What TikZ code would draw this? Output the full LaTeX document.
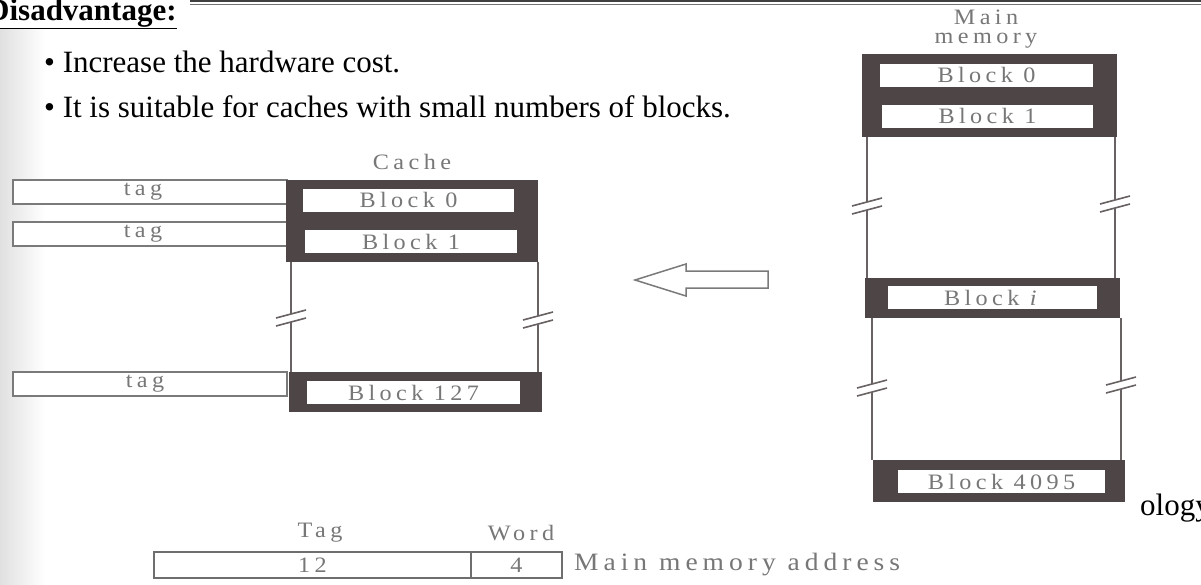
\documentclass[tikz,border=0pt]{standalone}
\usepackage{fontspec}
\setmainfont{Liberation Serif}
\newfontfamily\diagfont[LetterSpace=20,FakeStretch=1.1]{Liberation Serif}
\usetikzlibrary{calc}
\definecolor{blockgray}{HTML}{4E4646}
\definecolor{textgray}{HTML}{777777}
\definecolor{linegray}{HTML}{7A7A7A}
\tikzset{
  bigtext/.style={font=\fontsize{31}{31}\selectfont, inner sep=0pt, text=black},
  darkpart/.style={fill=blockgray, draw=none},
  whiteblk/.style={fill=white, draw=none, inner sep=0pt, text=textgray,
     font=\diagfont\fontsize{22}{22}\selectfont, minimum height=23pt},
  tagbox/.style={draw=linegray, line width=1.3pt, fill=white, inner sep=0pt,
     text=textgray, font=\diagfont\fontsize{22}{22}\selectfont,
     minimum height=24pt, minimum width=274pt},
  dlabel/.style={inner sep=0pt, text=textgray, font=\diagfont\fontsize{22}{22}\selectfont},
  sideline/.style={draw=blockgray!85, line width=1.6pt},
  addrbox/.style={draw=linegray!90!black, line width=1.6pt, inner sep=0pt,
     text=textgray, font=\diagfont\fontsize{22}{22}\selectfont, minimum height=26pt},
}
\newcommand{\brkline}[4]{% x, ytop, ybottom, ybreak
  \draw[sideline] (#1,#2) -- (#1,#4-4);
  \draw[sideline] (#1,#4+4) -- (#1,#3);
  \draw[sideline] (#1-15,#4) -- (#1+15,#4-8);
  \draw[sideline] (#1-15,#4+8) -- (#1+15,#4);
}
\begin{document}
\begin{tikzpicture}[x=1pt,y=-1pt]
\useasboundingbox (0,0) rectangle (1201,584);
\fill[white] (0,0) rectangle (1201,584);
\shade[left color=black!12, right color=white] (0,28) rectangle (45,584);
% top double rule
\draw[black!75, line width=1.2pt] (190,1) -- (1201,1);
\draw[black!55, line width=0.8pt] (190,4.5) -- (1201,4.5);

% heading and bullets
\node[bigtext, font=\bfseries\fontsize{31}{31}\selectfont, anchor=base west] (head) at (-13,20) {\underline{Disadvantage:}};
\node[bigtext, anchor=base west] (b1) at (44,72) {\textbullet\ Increase the hardware cost.};
\node[bigtext, anchor=base west] (b2) at (44,117) {\textbullet\ It is suitable for caches with small numbers of blocks.};

% ---------- Cache ----------
\node[dlabel] (cachelbl) at (412,162) {Cache};
\node[tagbox] (tag0) at (150,192) {\hspace*{-14pt}tag};
\node[tagbox] (tag1) at (150,234) {\hspace*{-14pt}tag};
\node[tagbox] (tag2) at (150,384) {\hspace*{-10pt}tag};
\fill[darkpart] (286,180) rectangle (538,262);
\fill[darkpart] (289,372) rectangle (542,412);
\brkline{291}{262}{372}{318}
\brkline{538}{262}{372}{320}
\node[whiteblk, minimum width=211pt] (cb0) at (408.5,200) {Block 0};
\node[whiteblk, minimum width=212pt] (cb1) at (411,241.5) {Block 1};
\node[whiteblk, minimum width=213pt] (cb127) at (413.5,392.5) {Block 127};

% ---------- arrow ----------
\draw[linegray, line width=1.5pt, fill=white, line join=miter]
  (635,280) -- (686,264) -- (686,271) -- (768,271) -- (768,288) -- (686,288) -- (686,296) -- cycle;

% ---------- Main memory ----------
\node[dlabel, align=center, font=\diagfont\fontsize{22}{19}\selectfont] (mmlbl) at (986,29) {Main\\memory};
\fill[darkpart] (862,54) rectangle (1117,137);
\fill[darkpart] (865,278) rectangle (1120,318);
\fill[darkpart] (873,460) rectangle (1125,502);
\brkline{867}{137}{278}{206}
\brkline{1115}{137}{278}{204}
\brkline{872}{318}{460}{388}
\brkline{1121}{318}{460}{385}
\node[whiteblk, minimum width=213pt] (mb0) at (986.5,75) {Block 0};
\node[whiteblk, minimum width=211pt] (mb1) at (987.5,116) {Block 1};
\node[whiteblk, minimum width=209pt] (mbi) at (992.5,297.5) {Block \textit{i}};
\node[whiteblk, minimum width=207pt] (mb4095) at (1001.5,481.5) {Block 4095};

\node[bigtext, anchor=base west] (ology) at (1140,515) {ology};

% ---------- address format ----------
\node[addrbox, minimum width=317pt] (tagf) at (312.5,565) {12};
\node[addrbox, minimum width=91pt] (wordf) at (516.5,565) {4};
\node[dlabel] (taglbl) at (320,533) {Tag};
\node[dlabel] (wordlbl) at (521,533) {Word};
\node[dlabel, anchor=west, font=\diagfont\fontsize{25}{25}\selectfont] (addrlbl) at (574,565) {Main memory address};
\end{tikzpicture}
\end{document}
